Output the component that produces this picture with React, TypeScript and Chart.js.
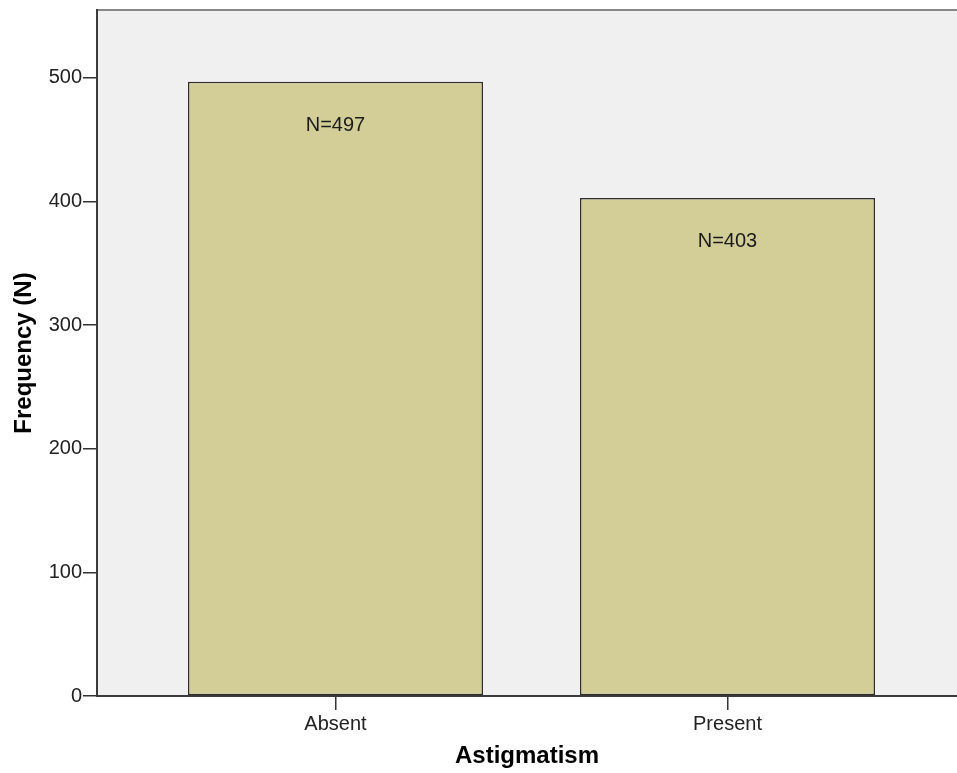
import React, { useEffect, useRef } from 'react';
import { Chart, registerables } from 'chart.js';

Chart.register(...registerables);

const categories = ['Absent', 'Present'];
const frequencies = [497, 403];
const yTickValues = [0, 100, 200, 300, 400, 500];
const yMax = 555;
const xMin = -0.6084;
const xMax = 1.5855;
const barLabels = frequencies.map((v) => `N=${v}`);

const FONT = '"Liberation Sans", Arial, Helvetica, sans-serif';

export default function App() {
  const ref = useRef<HTMLCanvasElement>(null);

  useEffect(() => {
    if (!ref.current) return;

    const plotBg = {
      id: 'plotBg',
      beforeDraw(chart: any) {
        const { ctx, chartArea: a } = chart;
        ctx.save();
        ctx.fillStyle = '#F0F0F0';
        ctx.fillRect(a.left, a.top, a.right - a.left, a.bottom - a.top);
        ctx.strokeStyle = '#878787';
        ctx.lineWidth = 2;
        ctx.beginPath();
        ctx.moveTo(a.left, a.top);
        ctx.lineTo(a.right, a.top);
        ctx.stroke();
        ctx.restore();
      },
    };

    const barText = {
      id: 'barText',
      afterDatasetsDraw(chart: any) {
        const { ctx } = chart;
        const meta = chart.getDatasetMeta(0);
        ctx.save();
        ctx.font = `20px ${FONT}`;
        ctx.fillStyle = '#1a1a1a';
        ctx.textAlign = 'center';
        ctx.textBaseline = 'middle';
        meta.data.forEach((el: any, i: number) => {
          ctx.fillText(barLabels[i], el.x, el.y + 44);
        });
        ctx.restore();
      },
    };

    const chart = new Chart(ref.current, {
      type: 'bar',
      data: {
        datasets: [
          {
            data: categories.map((_, i) => ({ x: i, y: frequencies[i] })),
            backgroundColor: '#D3CE97',
            borderColor: '#2e2e2e',
            borderWidth: 1.5,
            borderSkipped: false,
            categoryPercentage: 1,
            barPercentage: 0.7526,
          },
        ],
      },
      options: {
        responsive: false,
        animation: false,
        layout: { padding: { top: 10, left: 0, right: 0, bottom: 0 } },
        plugins: {
          legend: { display: false },
          tooltip: { enabled: false },
        },
        scales: {
          x: {
            type: 'linear',
            offset: false,
            min: xMin,
            max: xMax,
            afterBuildTicks: (s: any) => {
              s.ticks = categories.map((_, i) => ({ value: i }));
            },
            afterFit: (s: any) => {
              s.height = 77;
              s.paddingLeft = 0;
              s.paddingRight = 0;
            },
            ticks: {
              callback: (v: any) => categories[v as number] ?? '',
              font: { family: FONT, size: 20 },
              color: '#222',
              padding: 2,
              maxRotation: 0,
              autoSkip: false,
            },
            grid: {
              offset: false,
              drawOnChartArea: false,
              drawTicks: true,
              tickLength: 14,
              color: '#333',
              lineWidth: 1.5,
            },
            border: { display: true, color: '#3a3a3a', width: 2 },
            title: {
              display: true,
              text: 'Astigmatism',
              font: { family: FONT, size: 24, weight: 'bold' },
              color: '#000',
              padding: { top: 0, bottom: 2 },
            },
          },
          y: {
            min: 0,
            max: yMax,
            afterBuildTicks: (s: any) => {
              s.ticks = yTickValues.map((v) => ({ value: v }));
            },
            afterFit: (s: any) => {
              s.width = 97;
              s.paddingTop = 0;
              s.paddingBottom = 0;
            },
            ticks: {
              font: { family: FONT, size: 20 },
              color: '#222',
              padding: 1,
            },
            grid: {
              drawOnChartArea: false,
              drawTicks: true,
              tickLength: 14,
              color: '#333',
              lineWidth: 1.5,
            },
            border: { display: true, color: '#3a3a3a', width: 2 },
            title: {
              display: true,
              text: 'Frequency (N)',
              font: { family: FONT, size: 24, weight: 'bold' },
              color: '#000',
              padding: { top: 10, bottom: 0 },
            },
          },
        },
      },
      plugins: [plotBg, barText],
    } as any);

    return () => chart.destroy();
  }, []);

  return (
    <div style={{ position: 'fixed', left: 0, top: 0, width: 957, height: 773, background: '#fff' }}>
      <canvas ref={ref} width={957} height={773} style={{ display: 'block' }} />
    </div>
  );
}
